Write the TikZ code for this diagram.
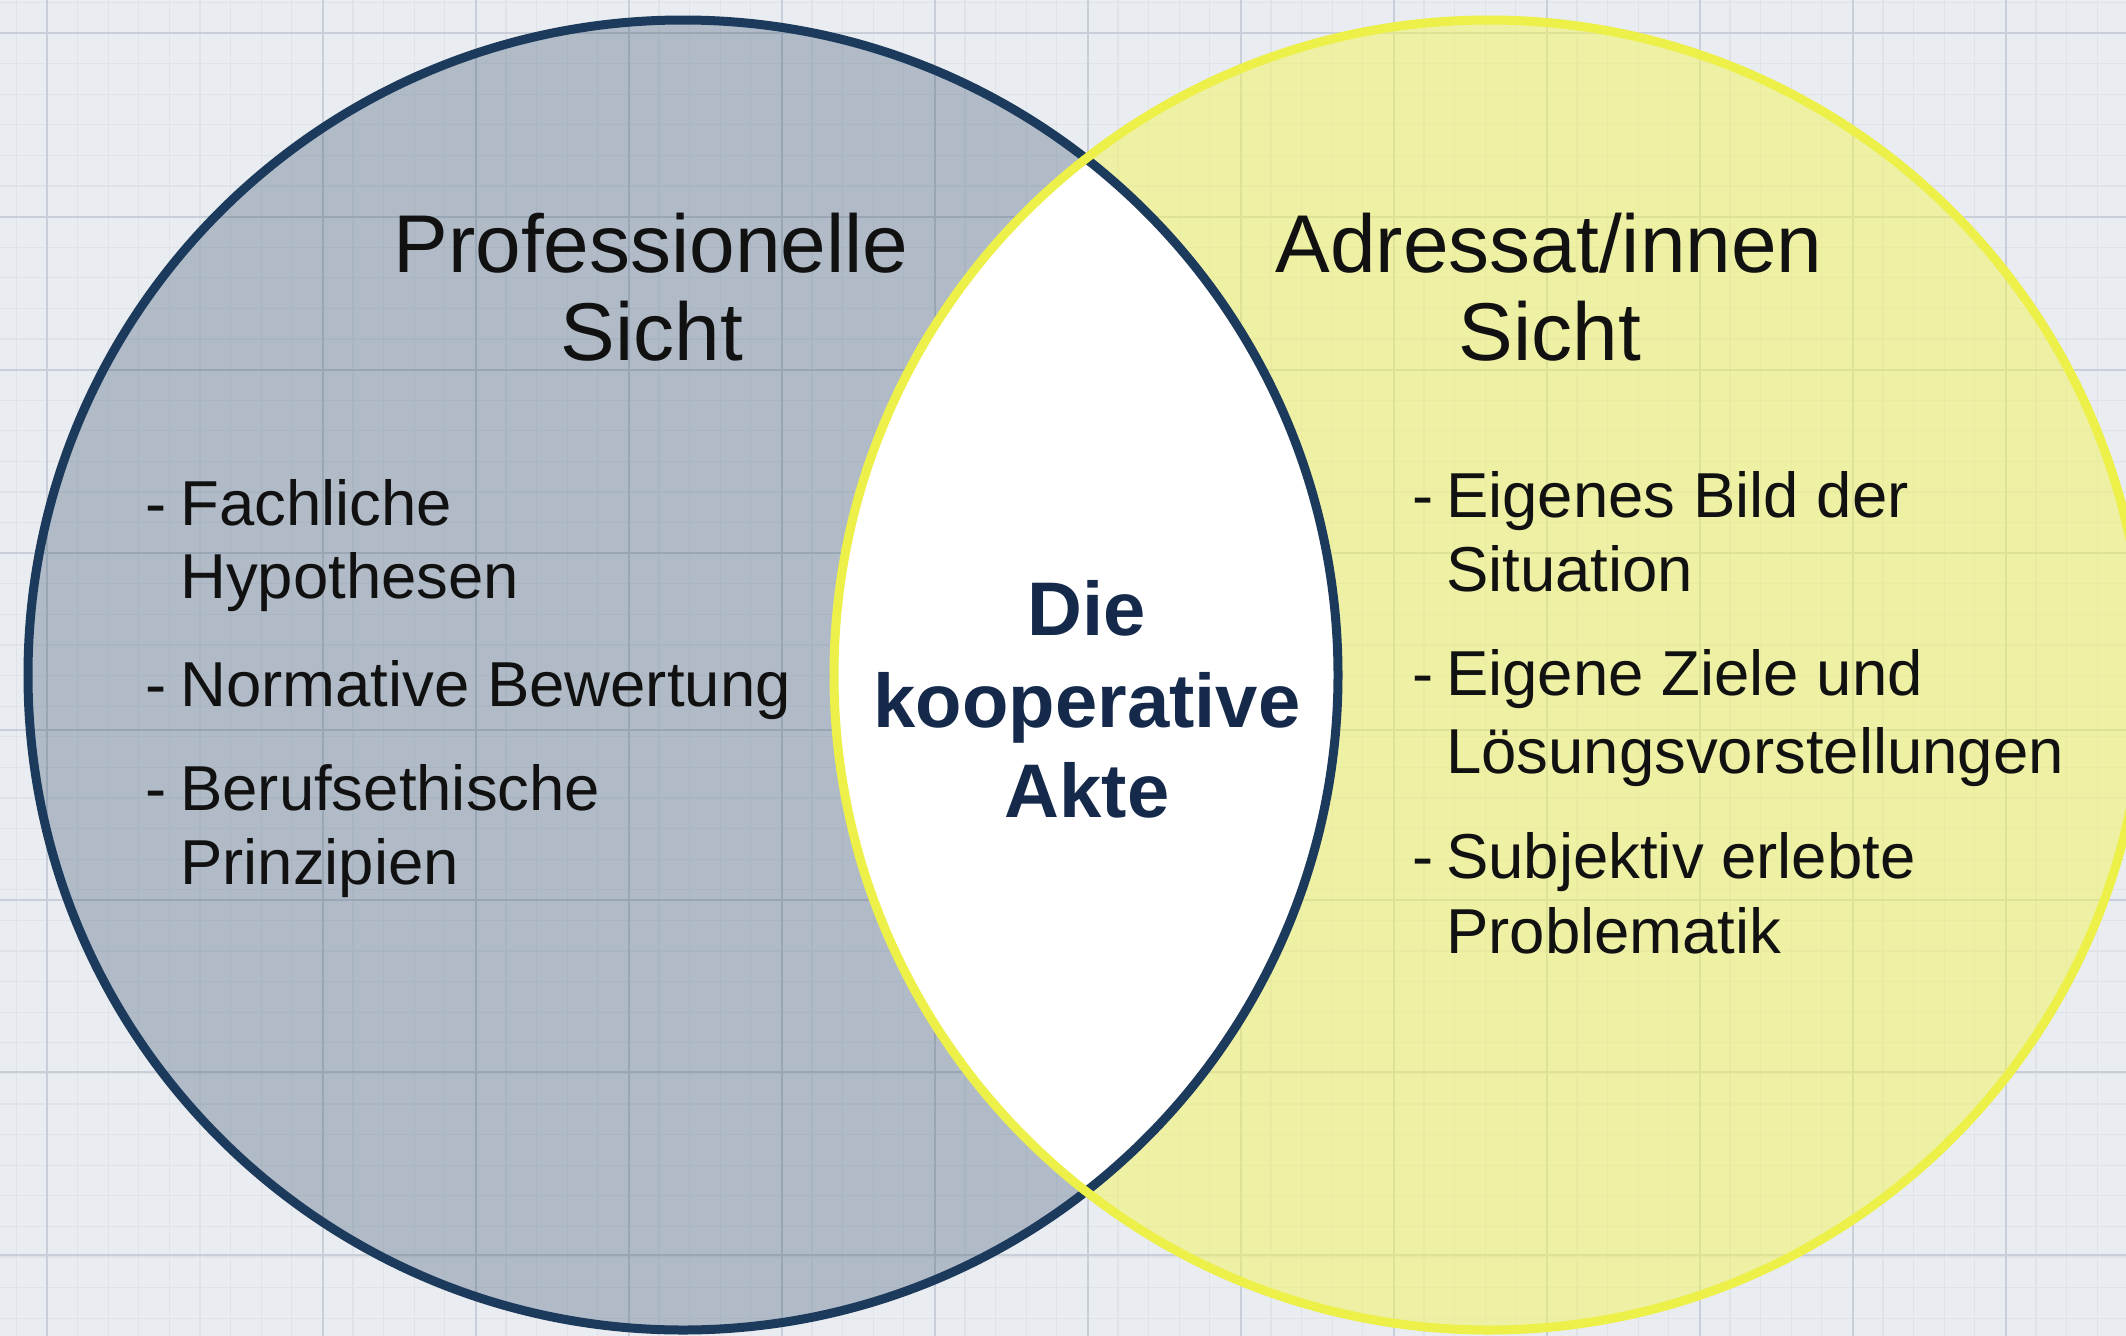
\documentclass[tikz,border=0pt]{standalone}
\usepackage{fontspec}
\setmainfont{Liberation Sans}
\definecolor{bgc}{HTML}{E9ECF0}
\definecolor{minorc}{HTML}{DFE3E8}
\definecolor{majorc}{HTML}{C8CFD8}
\definecolor{navy}{HTML}{1C3A5C}
\definecolor{ylw}{HTML}{ECF048}
\definecolor{ylwfill}{HTML}{F3F55A}
\definecolor{centertxt}{HTML}{15294A}
\definecolor{txt}{HTML}{111111}
\begin{document}
\begin{tikzpicture}[x=1pt,y=-1pt,
  minorline/.style={minorc, line width=1.2pt},
  majorline/.style={majorc, line width=2.6pt},
  titletxt/.style={anchor=base, inner sep=0pt, text=txt, font=\fontsize{82}{98}\selectfont},
  bodytxt/.style={anchor=base west, inner sep=0pt, text=txt, font=\fontsize{63.5}{74}\selectfont},
  centerstyle/.style={anchor=base, inner sep=0pt, text=centertxt, font=\fontsize{76}{90}\selectfont\bfseries}]
\useasboundingbox (0,0) rectangle (2126,1336);
\clip (0,0) rectangle (2126,1336);
\fill[bgc] (0,0) rectangle (2126,1336);
% minor grid
\foreach \i in {0,...,69} {\draw[minorline] ({16.4+30.6*\i},0) -- ({16.4+30.6*\i},1336);}
\foreach \i in {0,...,44} {\draw[minorline] (0,{2.4+30.6*\i}) -- (2126,{2.4+30.6*\i});}
% major grid
\foreach \x in {47,323,476,629,782,935,1088,1241,1394,1547,1700,1853,2006} {\draw[majorline] (\x,0) -- (\x,1336);}
\foreach \y in {33,217,370,553,730,900,1072,1255} {\draw[majorline] (0,\y) -- (2126,\y);}
% circles
\coordinate (cl) at (683,675);
\coordinate (cr) at (1489,675);
\fill[navy, fill opacity=0.27] (cl) circle[radius=655];
\fill[ylwfill, fill opacity=0.5] (cr) circle[radius=655];
\begin{scope}
  \clip (cl) circle[radius=655];
  \fill[white] (cr) circle[radius=655];
\end{scope}
\draw[navy, line width=9pt] (cl) circle[radius=655];
\draw[ylw, line width=9pt] (cr) circle[radius=655];
% titles
\node[titletxt] (tl1) at (651,272) {Professionelle};
\node[titletxt] (tl2) at (652,360) {Sicht};
\node[titletxt] (tr1) at (1549,272) {Adressat/innen};
\node[titletxt] (tr2) at (1550,360) {Sicht};
% center
\node[centerstyle] (c1) at (1087,635) {Die};
\node[centerstyle] (c2) at (1087,727) {kooperative};
\node[centerstyle] (c3) at (1087,817) {Akte};
% left list
\node[bodytxt] (ld1) at (145,525) {-};
\node[bodytxt] (l1a) at (180,525) {Fachliche};
\node[bodytxt] (l1b) at (180,598) {Hypothesen};
\node[bodytxt] (ld2) at (145,706) {-};
\node[bodytxt] (l2a) at (180,706) {Normative Bewertung};
\node[bodytxt] (ld3) at (145,810) {-};
\node[bodytxt] (l3a) at (180,810) {Berufsethische};
\node[bodytxt] (l3b) at (180,884) {Prinzipien};
% right list
\node[bodytxt] (rd1) at (1412,517) {-};
\node[bodytxt] (r1a) at (1446,517) {Eigenes Bild der};
\node[bodytxt] (r1b) at (1446,591) {Situation};
\node[bodytxt] (rd2) at (1412,695) {-};
\node[bodytxt] (r2a) at (1446,695) {Eigene Ziele und};
\node[bodytxt] (r2b) at (1446,773) {Lösungsvorstellungen};
\node[bodytxt] (rd3) at (1412,878) {-};
\node[bodytxt] (r3a) at (1446,878) {Subjektiv erlebte};
\node[bodytxt] (r3b) at (1446,953) {Problematik};
\end{tikzpicture}
\end{document}
